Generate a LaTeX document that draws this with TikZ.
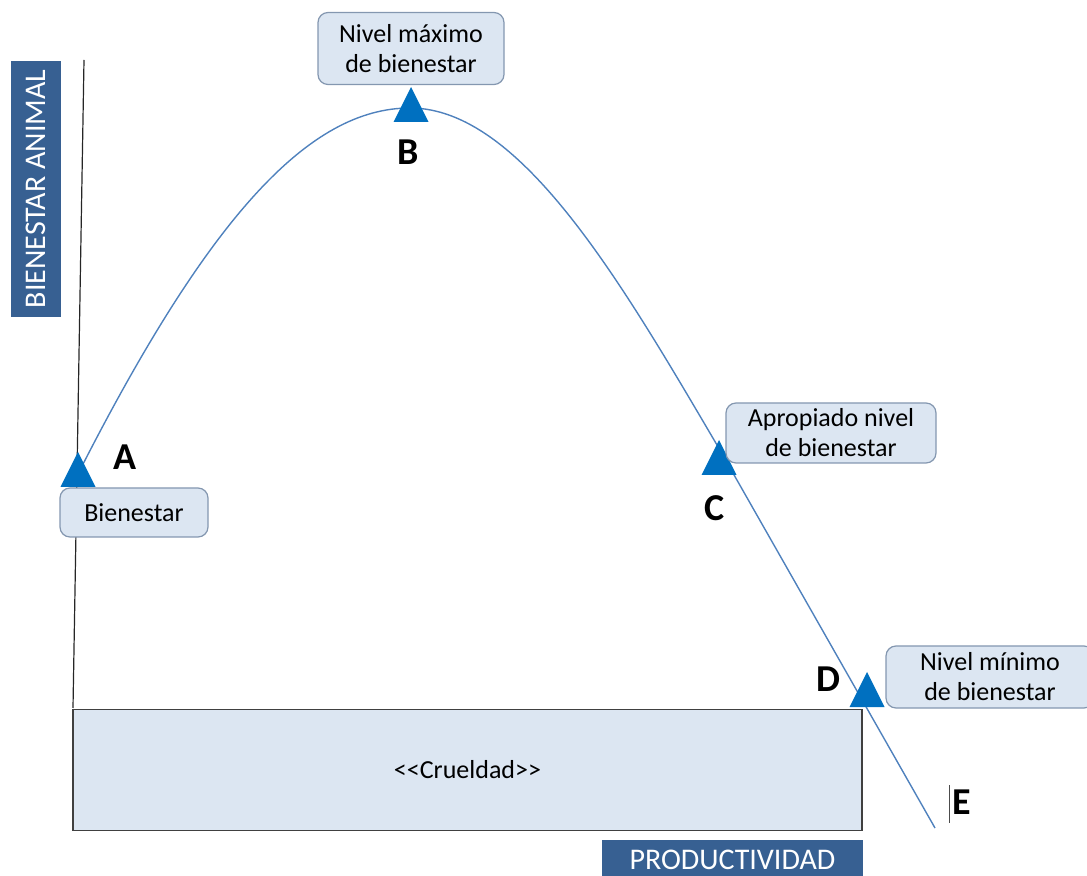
\documentclass[tikz,border=0pt]{standalone}
\usepackage{fontspec}
\setmainfont{Carlito}
\usepackage{tikz}
\definecolor{curveblue}{HTML}{4F81BD}
\definecolor{triblue}{HTML}{0070C0}
\definecolor{boxfill}{HTML}{DCE6F2}
\definecolor{boxline}{HTML}{8497B0}
\definecolor{axisblue}{HTML}{376092}
\begin{document}
\begin{tikzpicture}[x=0.5pt,y=-0.5pt,
  levelbox/.style={draw=boxline,fill=boxfill,rounded corners=5pt,line width=0.6pt,
    align=center,font=\fontsize{13}{15}\selectfont,inner sep=0pt},
  axislabel/.style={fill=axisblue,text=white,inner sep=0pt,
    font=\fontsize{15}{18}\selectfont},
  letter/.style={font=\fontsize{19}{22}\selectfont\bfseries,inner sep=0pt},
  tri/.style={fill=triblue}]
  \useasboundingbox (0,0) rectangle (1087,876);
  % zona de crueldad
  \node[draw=black!75,fill=boxfill,line width=0.8pt,minimum width=394.5pt,
    minimum height=60.5pt,inner sep=0pt,font=\fontsize{13}{15}\selectfont]
    (cruel) at (467.5,770) {<\kern0pt<Crueldad>\kern0pt>};
  % ejes
  \coordinate (ytop) at (84,60);
  \coordinate (ybot) at (73,708);
  \draw[black!85,line width=0.6pt] (ytop) -- (ybot);
  \node[axislabel,rotate=90,minimum width=128pt,minimum height=25pt]
    (ylab) at (36,189) {BIENESTAR ANIMAL};
  \node[axislabel,minimum width=130.5pt,minimum height=20pt]
    (xlab) at (732.5,860) {PRODUCTIVIDAD};
  % curva
  \coordinate (c0) at (80,470);
  \coordinate (cB) at (410,108);
  \coordinate (cC) at (717,445);
  \coordinate (cE) at (935,828);
  \draw[curveblue,line width=0.7pt] (c0) .. controls (210,215) and (310,108) .. (cB)
    .. controls (520,108) and (620,280) .. (cC) -- (cE);
  % marcas
  \foreach \x/\y in {78/452, 411/87, 719/440, 867/672}
    \fill[tri] (\x,\y) -- ++(-17.5,35) -- ++(35,0) -- cycle;
  % cuadros
  \node[levelbox,minimum width=93pt,minimum height=36pt] (maxbox) at (411,48.5)
    {Nivel máximo\\de bienestar};
  \node[levelbox,minimum width=74pt,minimum height=24.5pt] (bienbox) at (134,512.5)
    {Bienestar};
  \node[levelbox,minimum width=105pt,minimum height=30pt] (apbox) at (831,433)
    {Apropiado nivel\\de bienestar};
  \node[levelbox,minimum width=104pt,minimum height=31pt] (minbox) at (990,677)
    {Nivel mínimo\\de bienestar};
  % letras
  \node[letter] (lA) at (125,457.5) {A};
  \node[letter] (lB) at (408,152.5) {B};
  \node[letter] (lC) at (715,508) {C};
  \node[letter] (lD) at (828,679) {D};
  \node[letter] (lE) at (962,802) {E};
  \draw[black!70,line width=0.5pt] ([xshift=-1.5pt,yshift=2pt]lE.north west)
    -- ([xshift=-1.5pt,yshift=-4pt]lE.south west);
\end{tikzpicture}
\end{document}
